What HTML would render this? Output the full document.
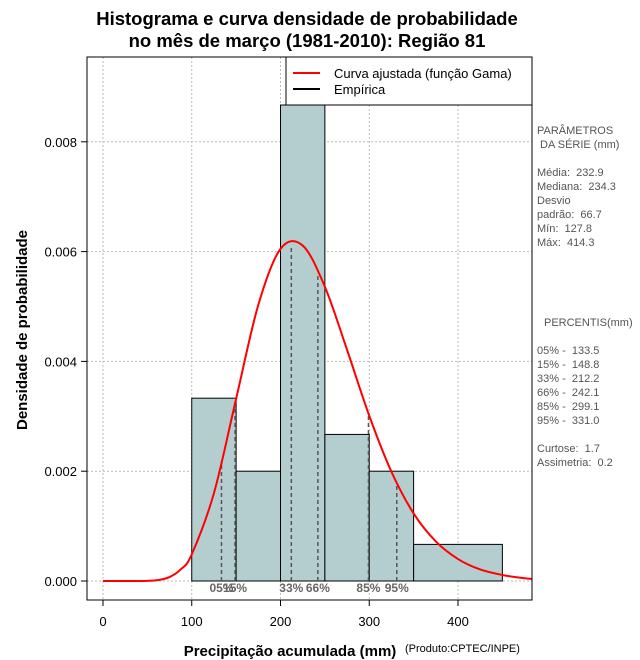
<!DOCTYPE html>
<html><head><meta charset="utf-8"><style>
body{margin:0;background:#fff;}
svg{display:block;font-family:"Liberation Sans",sans-serif;}
</style></head><body>
<svg id="chart" width="640" height="660">
<text x="307" y="25" text-anchor="middle" font-size="18.5" font-weight="bold">Histograma e curva densidade de probabilidade</text>
<text x="307" y="47" text-anchor="middle" font-size="18.5" font-weight="bold">no mês de março (1981-2010): Região 81</text>
<g id="grid"></g>
<g id="bars"></g>
<g id="pct"></g>
<path id="curve" fill="none" stroke="#ff0000" stroke-width="2"/>
<rect x="87" y="57" width="445" height="543" fill="none" stroke="#000"/>
<g id="axes"></g>
<g>
<rect x="286" y="57" width="246" height="48" fill="#fff" stroke="#000"/>
<line x1="293" y1="73" x2="320" y2="73" stroke="#ff0000" stroke-width="2"/>
<text x="334" y="78" font-size="13">Curva ajustada (função Gama)</text>
<line x1="293" y1="89" x2="320" y2="89" stroke="#000" stroke-width="2"/>
<text x="334" y="94" font-size="13">Empírica</text>
</g>
<text x="290" y="656" text-anchor="middle" font-size="15" font-weight="bold">Precipitação acumulada (mm)</text>
<text x="405" y="652" font-size="11">(Produto:CPTEC/INPE)</text>
<text transform="translate(27,330) rotate(-90)" text-anchor="middle" font-size="15" font-weight="bold">Densidade de probabilidade</text>
<g font-size="11" fill="#555" style="white-space:pre">
<text x="537" y="134">PARÂMETROS</text><text x="540" y="148">DA SÉRIE (mm)</text>
<text x="537" y="176" xml:space="preserve">Média:  232.9</text><text x="537" y="190" xml:space="preserve">Mediana:  234.3</text>
<text x="537" y="204">Desvio</text><text x="537" y="218" xml:space="preserve">padrão:  66.7</text>
<text x="537" y="232" xml:space="preserve">Mín:  127.8</text><text x="537" y="246" xml:space="preserve">Máx:  414.3</text>
<text x="544" y="326">PERCENTIS(mm)</text>
<text x="537" y="354" xml:space="preserve">05% -  133.5</text><text x="537" y="368" xml:space="preserve">15% -  148.8</text>
<text x="537" y="382" xml:space="preserve">33% -  212.2</text><text x="537" y="396" xml:space="preserve">66% -  242.1</text>
<text x="537" y="410" xml:space="preserve">85% -  299.1</text><text x="537" y="424" xml:space="preserve">95% -  331.0</text>
<text x="537" y="452" xml:space="preserve">Curtose:  1.7</text><text x="537" y="466" xml:space="preserve">Assimetria:  0.2</text>
</g>
</svg>
<script>
const binStarts=[100,150,200,250,300,350];
const binEnds=[150,200,250,300,350,450];
const binDensity=[0.00333,0.002,0.00867,0.00267,0.002,0.000667];
const curveX=[0,25,50,62.5,75,87.5,100,125,150,175,200,225,250,275,300,325,350,375,400,425,450,475,500];
const curveY=[0,0,0.000003,0.000018,0.000072,0.00021,0.000485,0.0016,0.00332,0.00503,0.00605,0.00611,0.00536,0.00421,0.00301,0.00199,0.00123,0.00072,0.0004,0.00021,0.00011,0.00005,0.00002];
const pctValues=[133.5,148.8,212.2,242.1,299.1,331.0];
const pctLabels=["05%","15%","33%","66%","85%","95%"];
const xTicks=[0,100,200,300,400];
const yTicks=[0,0.002,0.004,0.006,0.008];
const yTickLabels=["0.000","0.002","0.004","0.006","0.008"];
const NS="http://www.w3.org/2000/svg";
const X=v=>103+v*0.8875, Y=v=>581-v*54900;
function mk(tag,attrs,parent){const e=document.createElementNS(NS,tag);for(const k in attrs)e.setAttribute(k,attrs[k]);document.getElementById(parent).appendChild(e);return e;}
xTicks.forEach((t,i)=>{const g=mk('line',{x1:X(t),x2:X(t),y1:57,y2:600,stroke:'#bbb','stroke-dasharray':'2,2'},'grid');


const tk=mk('line',{x1:X(t),x2:X(t),y1:600,y2:606,stroke:'#000'},'axes');


const tl=mk('text',{x:X(t),y:626,'text-anchor':'middle','font-size':'13'},'axes');tl.textContent=t;

});
yTicks.forEach((t,i)=>{const g=mk('line',{x1:87,x2:532,y1:Y(t),y2:Y(t),stroke:'#bbb','stroke-dasharray':'2,2'},'grid');


const tk=mk('line',{x1:81,x2:87,y1:Y(t),y2:Y(t),stroke:'#000'},'axes');


const tl=mk('text',{x:77,y:Y(t)+5,'text-anchor':'end','font-size':'13'},'axes');tl.textContent=yTickLabels[i];

});
binStarts.forEach((s,i)=>{const r=mk('rect',{x:X(s),y:Y(binDensity[i]),width:X(binEnds[i])-X(s),height:Y(0)-Y(binDensity[i]),fill:'#b4cecf',stroke:'#000','stroke-width':1},'bars');

});
function interp(v){for(let i=0;i<curveX.length-1;i++){if(v>=curveX[i]&&v<=curveX[i+1]){const f=(v-curveX[i])/(curveX[i+1]-curveX[i]);return curveY[i]+f*(curveY[i+1]-curveY[i]);}}return 0;}
pctValues.forEach((p,i)=>{const l=mk('line',{x1:X(p),x2:X(p),y1:Y(0),y2:Y(interp(p)),stroke:'#555','stroke-width':1.5,'stroke-dasharray':'4,3'},'pct');


const t=mk('text',{x:X(p),y:592,'text-anchor':'middle','font-size':'12','font-weight':'bold',fill:'#666'},'pct');t.textContent=pctLabels[i];

});
const pts=curveX.map((x,i)=>[X(x),Y(curveY[i])]);
const y0=Y(0);
let d='M'+pts[0][0]+','+pts[0][1];
for(let i=0;i<pts.length-1;i++){const p0=pts[Math.max(i-1,0)],p1=pts[i],p2=pts[i+1],p3=pts[Math.min(i+2,pts.length-1)];
const c1y=Math.min(y0,p1[1]+(p2[1]-p0[1])/6), c2y=Math.min(y0,p2[1]-(p3[1]-p1[1])/6);
d+=' C'+(p1[0]+(p2[0]-p0[0])/6)+','+c1y+' '+(p2[0]-(p3[0]-p1[0])/6)+','+c2y+' '+p2[0]+','+p2[1];}
const cv=document.getElementById('curve');cv.setAttribute('d',d);
const clip=mk('clipPath',{id:'pc'},'chart');const cr=document.createElementNS(NS,'rect');cr.setAttribute('x',87);cr.setAttribute('y',57);cr.setAttribute('width',445);cr.setAttribute('height',543);clip.appendChild(cr);
cv.setAttribute('clip-path','url(#pc)');
</script>
</body></html>
